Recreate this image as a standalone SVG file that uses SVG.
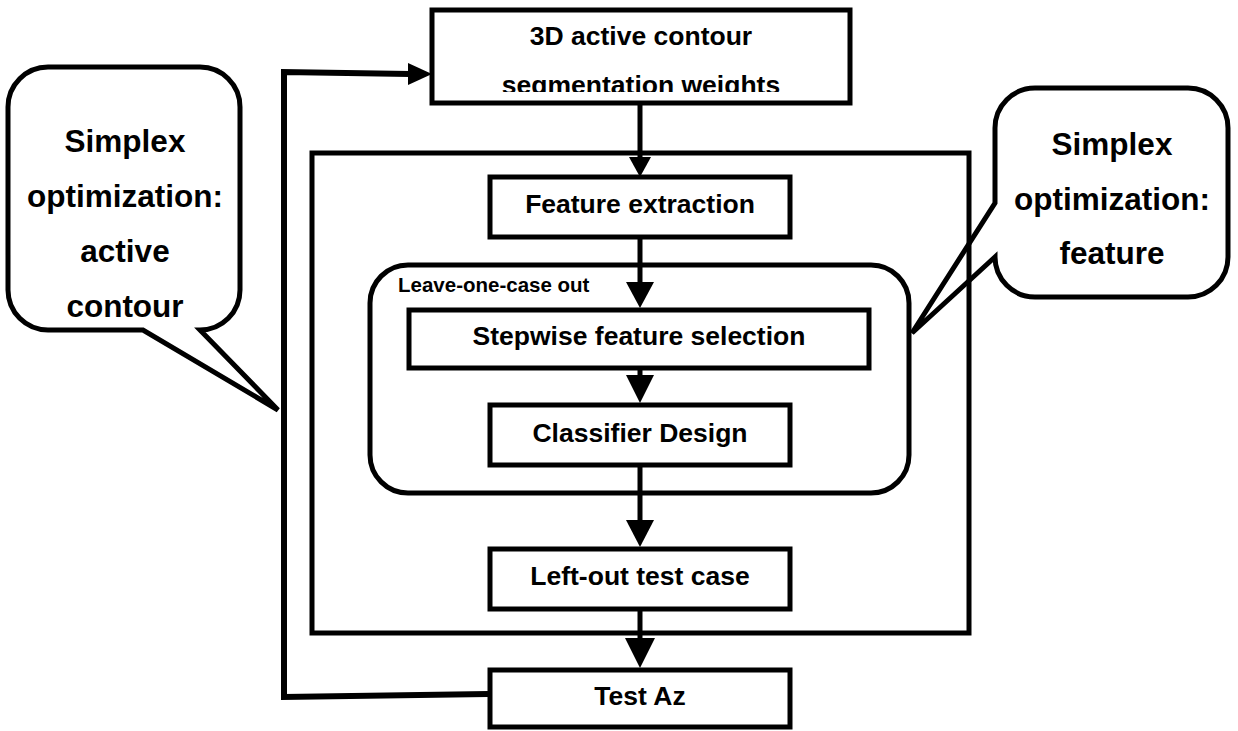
<svg xmlns="http://www.w3.org/2000/svg" width="1238" height="731" viewBox="0 0 1238 731">
  <style>
    .box { fill: #fff; stroke: #000; stroke-width: 5; }
    .frame { fill: none; stroke: #000; stroke-width: 5; }
    .callout { fill: #fff; stroke: #000; stroke-width: 5; stroke-linejoin: miter; }
    .lbl { font-family: "Liberation Sans", Arial, sans-serif; font-weight: bold; font-size: 26.5px; text-anchor: middle; fill: #000; }
    .big { font-size: 31.5px; }
    .small { font-size: 20.5px; text-anchor: start; }
    .wire { fill: none; stroke: #000; stroke-width: 5; }
    .loop { fill: none; stroke: #000; stroke-width: 6; stroke-linejoin: miter; }
    .head { fill: #000; }
  </style>
  <defs>
    <clipPath id="topClip">
      <rect x="434" y="12" width="414" height="80"/>
    </clipPath>
  </defs>
  <rect width="1238" height="731" fill="#fff"/>

  <!-- speech bubbles -->
  <g id="callout-active-contour">
    <path class="callout" d="M 48 67 H 200 A 40 40 0 0 1 240 107 V 290 A 40 40 0 0 1 200 330 L 278 410 L 143 330 H 48 A 40 40 0 0 1 8 290 V 107 A 40 40 0 0 1 48 67 Z"/>
    <text class="lbl big" x="125" y="152">Simplex</text>
    <text class="lbl big" x="125" y="207">optimization:</text>
    <text class="lbl big" x="125" y="262">active</text>
    <text class="lbl big" x="125" y="317">contour</text>
  </g>
  <g id="callout-feature">
    <path class="callout" d="M 1035 88 H 1188 A 40 40 0 0 1 1228 128 V 257 A 40 40 0 0 1 1188 297 H 1035 A 40 40 0 0 1 995 257 L 912 333 L 995 203 V 128 A 40 40 0 0 1 1035 88 Z"/>
    <text class="lbl big" x="1112" y="155">Simplex</text>
    <text class="lbl big" x="1112" y="210">optimization:</text>
    <text class="lbl big" x="1112" y="264">feature</text>
  </g>

  <!-- containers -->
  <g id="outer-loop">
    <rect class="frame" x="312" y="153" width="657" height="480"/>
  </g>
  <g id="leave-one-case-out">
    <rect class="frame" x="370" y="265" width="539" height="228" rx="38" ry="38"/>
    <text class="lbl small" x="398" y="292">Leave-one-case out</text>
  </g>

  <!-- process boxes -->
  <g id="segmentation-weights">
    <rect class="box" x="432" y="10" width="418" height="93"/>
    <g clip-path="url(#topClip)">
      <text class="lbl" x="641" y="45">3D active contour</text>
      <text class="lbl" x="641" y="94">segmentation weights</text>
    </g>
  </g>
  <g id="feature-extraction">
    <rect class="box" x="490" y="177" width="300" height="60"/>
    <text class="lbl" x="640" y="213">Feature extraction</text>
  </g>
  <g id="stepwise-selection">
    <rect class="box" x="409" y="310" width="460" height="58"/>
    <text class="lbl" x="639" y="345">Stepwise feature selection</text>
  </g>
  <g id="classifier-design">
    <rect class="box" x="490" y="405" width="300" height="60"/>
    <text class="lbl" x="640" y="442">Classifier Design</text>
  </g>
  <g id="left-out-test-case">
    <rect class="box" x="490" y="549" width="300" height="60"/>
    <text class="lbl" x="640" y="585">Left-out test case</text>
  </g>
  <g id="test-az">
    <rect class="box" x="490" y="670" width="300" height="57"/>
    <text class="lbl" x="640" y="705">Test Az</text>
  </g>

  <!-- connectors -->
  <g id="connectors">
    <line class="wire" x1="640" y1="103" x2="640" y2="160"/>
    <polygon class="head" points="629,157 651,157 640,177"/>

    <line class="wire" x1="640" y1="237" x2="640" y2="285"/>
    <polygon class="head" points="626,282 654,282 640,308"/>

    <line class="wire" x1="640" y1="368" x2="640" y2="378"/>
    <polygon class="head" points="626,375 654,375 640,403"/>

    <line class="wire" x1="640" y1="465" x2="640" y2="523"/>
    <polygon class="head" points="626,520 654,520 640,547"/>

    <line class="wire" x1="640" y1="609" x2="640" y2="641"/>
    <polygon class="head" points="625,638 655,638 640,668"/>

    <path class="loop" d="M 488 694 L 284 697 L 284 72 L 410 74"/>
    <polygon class="head" points="408,63 432,74 408,85"/>
  </g>
</svg>
